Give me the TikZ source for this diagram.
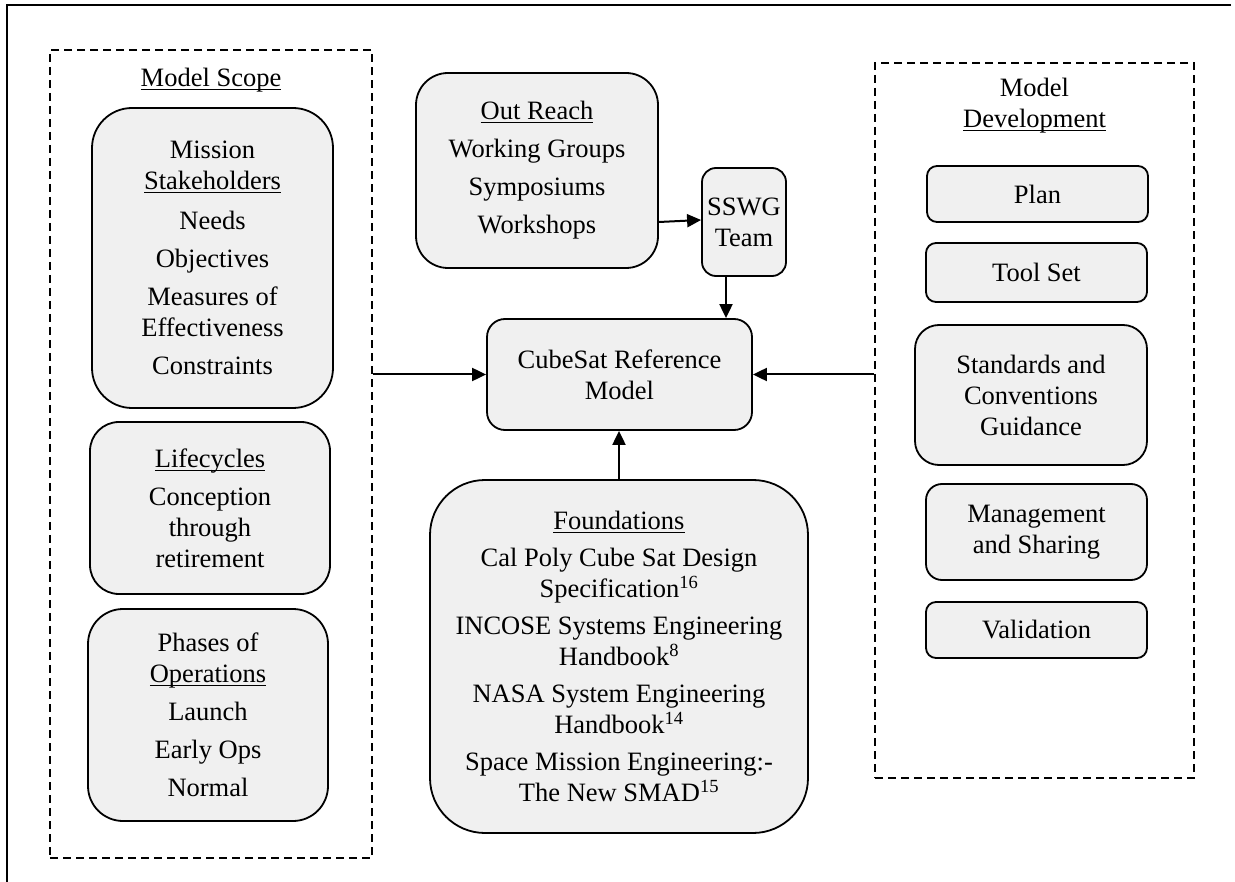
\documentclass[tikz,border=0pt]{standalone}
\usepackage{fontspec}
\setmainfont{Liberation Serif}
\usetikzlibrary{arrows.meta}
\definecolor{boxfill}{RGB}{240,240,240}
% fixed-depth underline, as in a word processor
\newsavebox\ulinebox
\newcommand{\ulin}[1]{\sbox\ulinebox{#1}\rlap{\rule[-3.6pt]{\wd\ulinebox}{1.2pt}}\usebox\ulinebox}
\tikzset{
  txt/.style={font=\fontsize{26.5}{31}\selectfont, align=center, inner sep=0pt},
  rbox/.style={txt, draw, fill=boxfill, line width=1.8pt},
  group/.style={draw, line width=1.6pt, dash pattern=on 8pt off 5pt, inner sep=0pt},
  arr/.style={line width=2pt, -{Triangle[length=14pt,width=13pt]}},
}
\begin{document}
\begin{tikzpicture}[x=1pt,y=-1pt]
\useasboundingbox (0,0) rectangle (1235,882);
% outer frame (top and left edges only)
\draw[line width=2pt] (1231,5) -- (7,5) -- (7,882);

% dashed groups
\node[group, minimum width=322pt, minimum height=808pt] (scope) at (211,454) {};
\node[group, minimum width=319pt, minimum height=715pt] (dev) at (1034.5,420.5) {};
\node[txt] (scopetitle) at (211,80) {\ulin{Model Scope}};
\node[txt] (devtitle) at (1034.5,106) {Model\\\ulin{Development}};

% model scope column
\node[rbox, rounded corners=40pt, minimum width=241pt, minimum height=300pt] (stake) at (212.5,258)
  {Mission\\\ulin{Stakeholders}\\[9pt]Needs\\[7pt]Objectives\\[7pt]Measures of\\Effectiveness\\[7pt]Constraints};
\node[rbox, rounded corners=29pt, minimum width=240pt, minimum height=172pt] (life) at (210,508)
  {\ulin{Lifecycles}\\[7pt]Conception\\through\\retirement};
\node[rbox, rounded corners=35pt, minimum width=240pt, minimum height=212pt] (phases) at (208,715)
  {Phases of\\\ulin{Operations}\\[7pt]Launch\\[7pt]Early Ops\\[7pt]Normal};

% centre column
\node[rbox, rounded corners=32pt, minimum width=242pt, minimum height=195pt] (outreach) at (537,170.5)
  {\ulin{Out Reach}\\[7pt]Working Groups\\[7pt]Symposiums\\[7pt]Workshops};
\node[rbox, rounded corners=14pt, minimum width=84pt, minimum height=108pt] (sswg) at (744,222)
  {SSWG\\Team};
\node[rbox, rounded corners=18pt, minimum width=265pt, minimum height=111pt] (cubesat) at (619.5,374.5)
  {CubeSat Reference\\Model};
\node[rbox, rounded corners=55pt, minimum width=378pt, minimum height=353pt] (found) at (619,656.5)
  {\ulin{Foundations}\\[6pt]Cal Poly Cube Sat Design\\Specification\textsuperscript{16}\\[6pt]%
   INCOSE Systems Engineering\\Handbook\textsuperscript{8}\\[6pt]%
   NASA System Engineering\\Handbook\textsuperscript{14}\\[6pt]%
   Space Mission Engineering:-\\The New SMAD\textsuperscript{15}};

% model development column
\node[rbox, rounded corners=10pt, minimum width=221pt, minimum height=56pt] (plan) at (1037.5,194) {Plan};
\node[rbox, rounded corners=10pt, minimum width=221pt, minimum height=59pt] (toolset) at (1036.5,272.5) {Tool Set};
\node[rbox, rounded corners=24pt, minimum width=232pt, minimum height=140pt] (standards) at (1031,395)
  {Standards and\\Conventions\\Guidance};
\node[rbox, rounded corners=16pt, minimum width=221pt, minimum height=96pt] (mgmt) at (1036.5,532)
  {Management\\and Sharing};
\node[rbox, rounded corners=10pt, minimum width=221pt, minimum height=56pt] (valid) at (1036.5,630) {Validation};

% connectors
\draw[arr] (scope.east |- cubesat.west) -- (cubesat.west);
\draw[arr] (dev.west |- cubesat.east) -- (cubesat.east);
\draw[arr] ([yshift=-51.5pt]outreach.east) -- ([yshift=2pt]sswg.west);
\draw[arr] ([xshift=-18pt]sswg.south) -- ([xshift=-18pt]sswg.south |- cubesat.north);
\draw[arr] (found.north) -- (found.north |- cubesat.south);
\end{tikzpicture}
\end{document}
